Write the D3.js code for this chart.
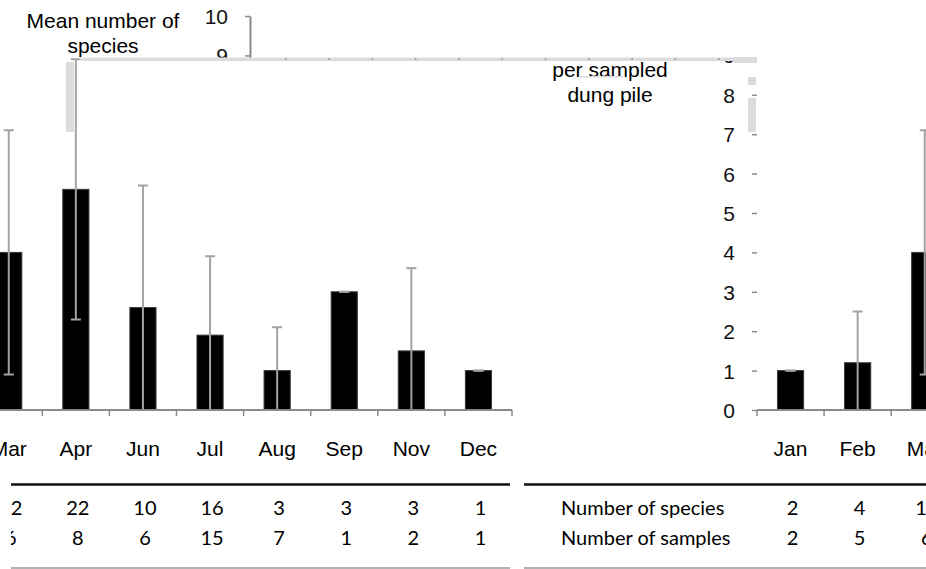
<!DOCTYPE html>
<html>
<head>
<meta charset="utf-8">
<script src="https://cdn.jsdelivr.net/npm/d3@7"></script>
<style>
  body { margin: 0; background: #fff; }
  svg { display: block; }
</style>
</head>
<body>
<script>
// data
var months = ['Jan', 'Feb', 'Mar', 'Apr', 'Jun', 'Jul', 'Aug', 'Sep', 'Nov', 'Dec'];
var meanSpecies = [1.0, 1.2, 4.0, 5.6, 2.6, 1.9, 1.0, 3.0, 1.5, 1.0];
var sdSpecies = [0, 1.3, 3.1, 3.3, 3.1, 2.0, 1.1, 0, 2.1, 0];
var numSpecies = [2, 4, 12, 22, 10, 16, 3, 3, 3, 1];
var numSamples = [2, 5, 6, 8, 6, 15, 7, 1, 2, 1];
var yTicks = [0, 1, 2, 3, 4, 5, 6, 7, 8, 9, 10];
var titleLines = ['Mean number of', 'species', 'per sampled', 'dung pile'];
var rowLabels = ['Number of species', 'Number of samples'];

(function() {
    var w = 926,
        h = 569;
    var seamY = 58,   // rows above this come from another part of the page
        seamX = 517;  // left block shows the right end of the chart

    var svg = d3.select('body').append('svg')
        .attr('width', w)
        .attr('height', h);

    // virtual (unwrapped) chart coordinates
    var x = d3.scaleBand().domain(months).range([757, 1428]);
    var y = d3.scaleLinear().domain([0, 10]).range([410, 16]);
    var barW = x.bandwidth() * 0.39;
    var axisGrey = '#8a8a8a',
        errGrey = '#a3a3a3';

    var rows = months.map(function(m, i) {
        return {
            month: m,
            mean: meanSpecies[i],
            lo: meanSpecies[i] - sdSpecies[i],
            hi: meanSpecies[i] + sdSpecies[i],
            species: numSpecies[i],
            samples: numSamples[i]
        };
    });

    var defs = svg.append('defs');
    function clip(id, d) {
        defs.append('clipPath').attr('id', id)
            .append('path').attr('d', d);
    }
    function box(cx, cy, cw, ch) {
        return 'M' + cx + ',' + cy + 'h' + cw + 'v' + ch + 'h' + (-cw) + 'Z';
    }
    clip('top', box(0, 0, w, seamY));
    clip('right', box(seamX, seamY, w - seamX, h - seamY));
    // the table rows of the left block start a little in from the edge
    clip('left', box(0, seamY, seamX, 412) + box(11, 470, seamX - 11, h - 470));

    function drawChart(g, withSpine) {
        // y title
        g.append('text')
            .attr('x', 610)
            .attr('y', 28)
            .attr('text-anchor', 'middle')
            .style('font', '21px "Liberation Sans", Arial, sans-serif')
            .selectAll('tspan')
            .data(titleLines)
            .enter().append('tspan')
            .attr('x', 610)
            .attr('dy', function(d, i) { return i ? 24.6 : 0; })
            .text(function(d) { return d; });

        // y axis
        var ya = g.append('g').attr('transform', 'translate(757,0)')
            .call(d3.axisLeft(y).tickValues(yTicks).tickSize(5).tickPadding(17).tickSizeOuter(0));
        ya.select('.domain').attr('stroke', axisGrey).attr('stroke-width', 2)
            .style('display', withSpine ? null : 'none');
        ya.selectAll('.tick line').attr('stroke', axisGrey).attr('stroke-width', 1.5);
        ya.selectAll('.tick text').attr('fill', '#111')
            .style('font', '21px "Liberation Sans", Arial, sans-serif')
            .attr('dy', '0.36em');

        // bars
        g.append('g').selectAll('rect')
            .data(rows)
            .enter().append('rect')
            .attr('x', function(d) { return x(d.month) + x.bandwidth() / 2 - barW / 2; })
            .attr('y', function(d) { return y(d.mean); })
            .attr('width', barW)
            .attr('height', function(d) { return y(0) - y(d.mean); })
            .attr('fill', '#000')
            .attr('stroke', '#3a3a3a')
            .attr('stroke-width', 1);

        // error bars
        var eb = g.append('g').selectAll('g')
            .data(rows)
            .enter().append('g')
            .attr('transform', function(d) {
                return 'translate(' + (x(d.month) + x.bandwidth() / 2) + ',0)';
            })
            .attr('stroke', errGrey)
            .attr('stroke-width', 2);
        eb.append('line')
            .attr('y1', function(d) { return y(Math.max(0, d.lo)); })
            .attr('y2', function(d) { return y(d.hi); });
        eb.append('line')
            .attr('x1', -5).attr('x2', 5)
            .attr('y1', function(d) { return y(d.hi); })
            .attr('y2', function(d) { return y(d.hi); });
        eb.filter(function(d) { return d.lo > 0; })
            .append('line')
            .attr('x1', -5).attr('x2', 5)
            .attr('y1', function(d) { return y(d.lo); })
            .attr('y2', function(d) { return y(d.lo); });

        // x axis
        var xr = x.range();
        g.append('line')
            .attr('x1', xr[0]).attr('x2', xr[1])
            .attr('y1', y(0)).attr('y2', y(0))
            .attr('stroke', axisGrey).attr('stroke-width', 2);
        g.append('g').selectAll('line')
            .data(months.concat(['end']))
            .enter().append('line')
            .attr('x1', function(d) { return d === 'end' ? xr[1] : x(d); })
            .attr('x2', function(d) { return d === 'end' ? xr[1] : x(d); })
            .attr('y1', y(0)).attr('y2', y(0) + 6)
            .attr('stroke', axisGrey).attr('stroke-width', 1.5);
        g.append('g').selectAll('text')
            .data(months)
            .enter().append('text')
            .attr('x', function(d) { return x(d) + x.bandwidth() / 2; })
            .attr('y', 456)
            .attr('text-anchor', 'middle')
            .style('font', '21px "Liberation Sans", Arial, sans-serif')
            .text(function(d) { return d; });

        // table under the chart
        g.append('line')
            .attr('x1', 524).attr('x2', xr[1] - 2)
            .attr('y1', 484.5).attr('y2', 484.5)
            .attr('stroke', '#111').attr('stroke-width', 2.5);
        g.append('line')
            .attr('x1', 524).attr('x2', xr[1] - 2)
            .attr('y1', 568).attr('y2', 568)
            .attr('stroke', '#999').attr('stroke-width', 1.5);
        var tfont = '20px Lato, "Open Sans", sans-serif';
        [['species', 515], ['samples', 545]].forEach(function(r, i) {
            g.append('text')
                .attr('x', 561).attr('y', r[1])
                .style('font', tfont)
                .text(rowLabels[i]);
            g.append('g').selectAll('text')
                .data(rows)
                .enter().append('text')
                .attr('x', function(d) { return x(d.month) + x.bandwidth() / 2 + 2; })
                .attr('y', r[1])
                .attr('text-anchor', 'middle')
                .style('font', tfont)
                .text(function(d) { return d[r[0]]; });
        });
    }

    // three pieces of the same chart, as the picture shows them
    [['top', -507, true], ['right', 0, false], ['left', -916, false]].forEach(function(p) {
        var outer = svg.append('g').attr('clip-path', 'url(#' + p[0] + ')');
        drawChart(outer.append('g').attr('transform', 'translate(' + p[1] + ',0)'), p[2]);
    });

    // grey scraps along the seam
    var junk = svg.append('g').attr('fill', '#dcdcdc');
    junk.append('rect').attr('x', 80).attr('y', 57.5).attr('width', 677).attr('height', 3.5);
    junk.append('rect').attr('x', 66).attr('y', 62).attr('width', 8).attr('height', 70);
    junk.append('rect').attr('x', 733).attr('y', 57).attr('width', 24).attr('height', 6);
    junk.append('rect').attr('x', 748).attr('y', 77).attr('width', 8).attr('height', 8);
    junk.append('rect').attr('x', 748).attr('y', 98).attr('width', 8).attr('height', 34);
    junk.append('rect').attr('x', 580).attr('y', 76).attr('width', 43).attr('height', 1.5);
    junk.append('g').selectAll('rect')
        .data(d3.range(285, 750, 43.3))
        .enter().append('rect')
        .attr('x', function(d) { return d; })
        .attr('y', 58)
        .attr('width', 1.5).attr('height', 2)
        .attr('fill', '#9a9a9a');
})();
</script>
</body>
</html>
